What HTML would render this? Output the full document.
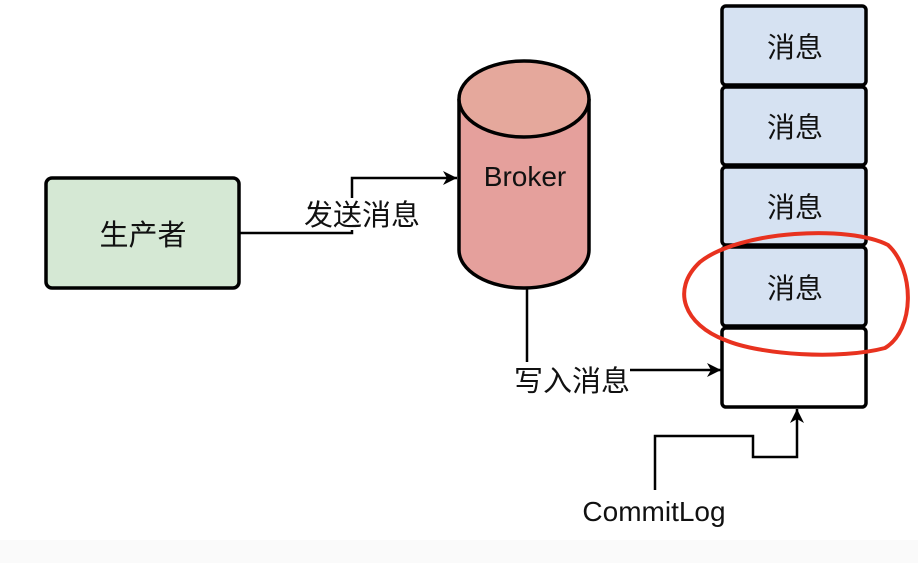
<!DOCTYPE html>
<html><head><meta charset="utf-8"><style>
html,body{margin:0;padding:0;background:#fff;}
svg text{font-family:"Liberation Sans","Noto Sans CJK SC",sans-serif;fill:#111;}
</style></head><body>
<svg width="918" height="563" viewBox="0 0 918 563" xmlns="http://www.w3.org/2000/svg">
<defs><marker id="a" markerWidth="16" markerHeight="16" refX="14" refY="7" orient="auto" markerUnits="userSpaceOnUse"><path d="M0,0 L14,7 L0,14 L4,7 z" fill="#000"/></marker></defs>
<rect x="0" y="540" width="918" height="23" fill="#fafafa"/>
<rect x="46" y="178" width="193" height="110" rx="6" fill="#d5e8d4" stroke="#000" stroke-width="3.5"/>
<text x="143" y="245" font-size="29" text-anchor="middle">生产者</text>
<polyline points="240,233 352,233 352,178 457,178" fill="none" stroke="#000" stroke-width="2.5" marker-end="url(#a)"/>
<rect x="300" y="198" width="124" height="32" fill="#fff"/>
<text x="362" y="225" font-size="29" text-anchor="middle">发送消息</text>
<path d="M459,99 L459,250 A65,38 0 0 0 589,250 L589,99" fill="#e5a09c" stroke="#000" stroke-width="3.5"/>
<ellipse cx="524" cy="99" rx="65" ry="38" fill="#e5a89c" stroke="#000" stroke-width="3.5"/>
<text x="525" y="186" font-size="28" text-anchor="middle">Broker</text>
<line x1="527" y1="288" x2="527" y2="362" stroke="#000" stroke-width="2.5"/>
<text x="572" y="391" font-size="29" text-anchor="middle">写入消息</text>
<line x1="630" y1="370" x2="721" y2="370" stroke="#000" stroke-width="2.5" marker-end="url(#a)"/>
<g stroke="#000" stroke-width="3.5">
<rect x="722" y="6" width="144" height="79" rx="4" fill="#d6e2f2"/>
<rect x="722" y="87" width="144" height="78" rx="4" fill="#d6e2f2"/>
<rect x="722" y="167" width="144" height="78" rx="4" fill="#d6e2f2"/>
<rect x="722" y="247" width="144" height="79" rx="4" fill="#d6e2f2"/>
<rect x="722" y="328" width="144" height="79" rx="4" fill="#fff"/>
</g>
<text x="795" y="57" font-size="28" text-anchor="middle">消息</text>
<text x="795" y="137" font-size="28" text-anchor="middle">消息</text>
<text x="795" y="217" font-size="28" text-anchor="middle">消息</text>
<text x="795" y="298" font-size="28" text-anchor="middle">消息</text>
<polyline points="655,490 655,436 753,436 753,457 797,457 797,409" fill="none" stroke="#000" stroke-width="2.5" marker-end="url(#a)"/>
<text x="654" y="521" font-size="28" text-anchor="middle">CommitLog</text>
<path d="M700,262 C740,230 850,225 888,245 C915,270 915,330 885,348 C840,360 760,355 725,340 C685,325 670,290 700,262 z" fill="none" stroke="#e8321f" stroke-width="4"/>
</svg>
</body></html>
